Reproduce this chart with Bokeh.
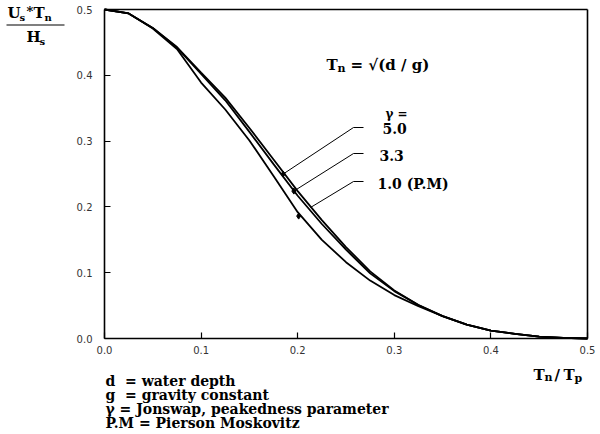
from bokeh.plotting import figure
from bokeh.models import Label, FixedTicker, PrintfTickFormatter, LinearAxis
from bokeh.embed import file_html
from bokeh.resources import INLINE

# ---- data ----
x_ratio = [0.0, 0.025, 0.05, 0.075, 0.1, 0.125, 0.15, 0.175, 0.2, 0.225, 0.25,
           0.275, 0.3, 0.325, 0.35, 0.375, 0.4, 0.425, 0.45, 0.475, 0.5]
y_gamma50 = [0.500, 0.494, 0.472, 0.443, 0.404, 0.366, 0.320, 0.272, 0.224, 0.180, 0.139,
             0.102, 0.073, 0.051, 0.034, 0.021, 0.012, 0.007, 0.003, 0.001, 0.0]
y_gamma33 = [0.500, 0.494, 0.472, 0.442, 0.402, 0.362, 0.314, 0.265, 0.217, 0.174, 0.135,
             0.099, 0.072, 0.051, 0.034, 0.021, 0.012, 0.007, 0.003, 0.001, 0.0]
y_gamma10 = [0.500, 0.494, 0.471, 0.440, 0.389, 0.348, 0.301, 0.247, 0.192, 0.150, 0.116,
             0.088, 0.066, 0.049, 0.034, 0.021, 0.012, 0.007, 0.003, 0.001, 0.0]

marker_x = [0.185, 0.196, 0.201]
marker_y = [0.250, 0.224, 0.186]
gamma_labels = ["5.0", "3.3", "1.0 (P.M)"]

x_ticks = [0.0, 0.1, 0.2, 0.3, 0.4, 0.5]
y_ticks = [0.0, 0.1, 0.2, 0.3, 0.4, 0.5]

notes = ["d\u00a0\u00a0= water depth", "g\u00a0\u00a0= gravity constant",
         "\u03b3 = Jonswap, peakedness parameter", "P.M = Pierson Moskovitz"]

# ---- page-pixel -> data helper (for annotation placement only) ----
W, H = 598, 432
X0, XS = 104.0, 966.0
Y0, YS = 338.0, 658.0


def px(x):
    return (x - X0) / XS


def py(y):
    return (Y0 - y) / YS


p = figure(width=W, height=H, output_backend="svg", toolbar_location=None,
           x_range=(px(0), px(W)), y_range=(py(H), py(0)),
           x_axis_type=None, y_axis_type=None,
           min_border=0, min_border_left=0, min_border_right=0,
           min_border_top=0, min_border_bottom=0)
p.grid.visible = False
p.background_fill_color = "white"
p.border_fill_color = "white"
p.outline_line_color = None


def style_axis(ax, ticks, labels=True):
    ax.axis_line_color = "black"
    ax.axis_line_width = 1.6
    ax.bounds = (0, 0.5)
    ax.fixed_location = 0 if labels else 0.5
    ax.ticker = FixedTicker(ticks=ticks if labels else [])
    ax.major_tick_in = 6
    ax.major_tick_out = 0
    ax.minor_tick_in = 0
    ax.minor_tick_out = 0
    ax.major_tick_line_color = "black"
    ax.major_tick_line_width = 1.2
    ax.major_label_text_font = "DejaVu Sans"
    ax.major_label_text_font_size = "10px"
    ax.major_label_text_color = "#333333"
    ax.formatter = PrintfTickFormatter(format="%.1f")
    if not labels:
        ax.major_label_text_alpha = 0
        ax.major_tick_line_color = None


xax = LinearAxis()
style_axis(xax, x_ticks)
xax.major_label_standoff = 7
p.add_layout(xax, "below")

yax = LinearAxis()
style_axis(yax, y_ticks)
yax.major_label_standoff = 12
p.add_layout(yax, "left")

top_ax = LinearAxis()
style_axis(top_ax, x_ticks, labels=False)
p.add_layout(top_ax, "above")

right_ax = LinearAxis()
style_axis(right_ax, y_ticks, labels=False)
p.add_layout(right_ax, "right")

# curves
for ys in (y_gamma10, y_gamma33, y_gamma50):
    p.line(x_ratio, ys, line_color="black", line_width=1.8)

p.scatter(marker_x, marker_y, marker="diamond", size=6, color="black")

# leader lines
elbow_y = [py(127), py(153), py(181)]
start_x = [marker_x[0], marker_x[1], px(310)]
start_y = [marker_y[0], marker_y[1], py(207)]
for i in range(3):
    p.line([start_x[i], px(353), px(363)], [start_y[i], elbow_y[i], elbow_y[i]],
           line_color="black", line_width=1)

serif = "DejaVu Serif"


def lab(x, y, t, size="13px", align="left", style="bold"):
    p.add_layout(Label(x=px(x), y=py(y), text=t, text_font=serif, text_font_size=size,
                       text_font_style=style, text_align=align, text_baseline="middle",
                       text_color="black"))


lab(385, 113, "\u03b3 =", "12px")
lab(382, 128, gamma_labels[0], "14px")
lab(379, 155, gamma_labels[1], "14px")
lab(377, 183, gamma_labels[2], "14px")

# Tn = sqrt(d/g)
lab(326, 64, "T", "15px")
lab(337, 68, "n", "11px")
lab(350, 64, "= \u221a(d / g)", "15px")

# y axis title as a fraction
lab(7, 12, "U", "15px")
lab(19, 17, "s", "10px")
lab(26, 11, "*", "13px")
lab(33, 12, "T", "15px")
lab(44, 17, "n", "10px")
p.line([px(6), px(64)], [py(24.5), py(24.5)], line_color="black", line_width=1.2)
lab(26, 36, "H", "15px")
lab(39, 41, "s", "10px")

# x axis title
lab(533, 374, "T", "15px")
lab(544, 377, "n", "11px")
lab(554, 374, "/", "15px")
lab(563, 374, "T", "15px")
lab(574, 378, "p", "11px")

# notes
for i, t in enumerate(notes):
    lab(105, 380 + i * 14.3, t, "14px")

open("out.html", "w").write(file_html(p, INLINE))
